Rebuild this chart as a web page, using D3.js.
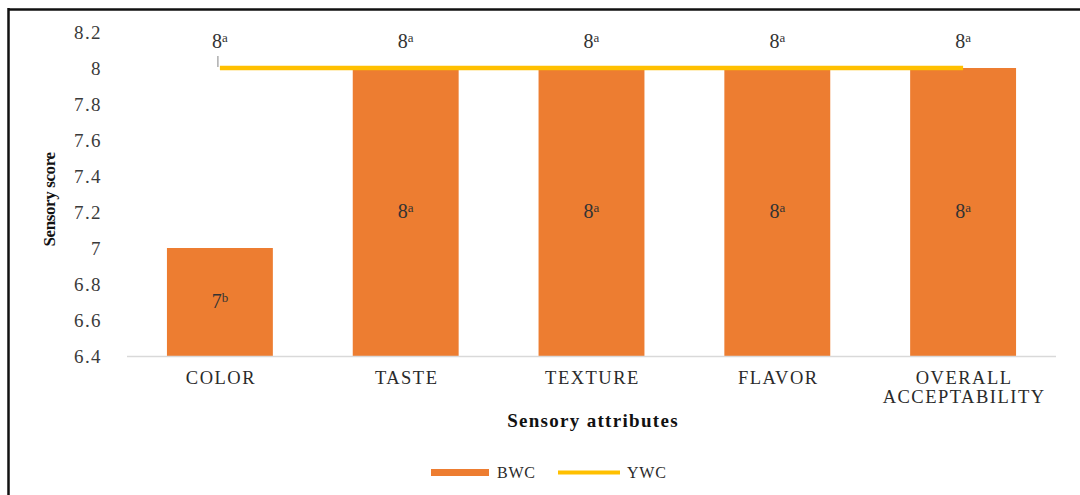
<!DOCTYPE html>
<html>
<head>
<meta charset="utf-8">
<script src="https://cdn.jsdelivr.net/npm/d3@7"></script>
<style>
  html, body { margin: 0; padding: 0; background: #fff; }
  svg { display: block; }
</style>
</head>
<body>
<svg id="chart" width="1080" height="495" font-family="Liberation Serif"></svg>
<script>
// Sensory scores per attribute
const categories = ["COLOR", "TASTE", "TEXTURE", "FLAVOR", "OVERALL ACCEPTABILITY"];
const bwcValues = [7, 8, 8, 8, 8];
const bwcLetters = ["b", "a", "a", "a", "a"];
const ywcValues = [8, 8, 8, 8, 8];
const ywcLetters = ["a", "a", "a", "a", "a"];
const yTicks = [6.4, 6.6, 6.8, 7, 7.2, 7.4, 7.6, 7.8, 8, 8.2];

const svg = d3.select("#chart");
const W = 1080, H = 495;
const SERIF = "Liberation Serif";

// Frame lines (top and left)
svg.append("line").attr("x1", 8).attr("x2", W).attr("y1", 9.5).attr("y2", 9.5)
  .attr("stroke", "#111").attr("stroke-width", 2.5);
svg.append("line").attr("x1", 8.5).attr("x2", 8.5).attr("y1", 8).attr("y2", H)
  .attr("stroke", "#111").attr("stroke-width", 2.5);

const plot = { left: 127, right: 1056, top: 32, bottom: 356 };

const x = d3.scaleBand().domain(categories)
  .range([plot.left, plot.right]).paddingInner(0.43).paddingOuter(0.215);
const y = d3.scaleLinear().domain([6.4, 8.2]).range([plot.bottom, plot.top]);

const orange = "#ED7D31", yellow = "#FFC000";

// Y axis tick labels
const yAxis = d3.axisLeft(y).tickValues(yTicks).tickSize(0).tickPadding(0)
  .tickFormat(d => d3.format("~g")(d));
const gy = svg.append("g").attr("transform", `translate(102,0)`).call(yAxis);
gy.attr("font-family", null).attr("font-size", null);
gy.select(".domain").remove();
gy.selectAll("text").attr("font-size", 19).attr("fill", "#3a3a3a")
  .attr("font-family", SERIF).attr("letter-spacing", 1.4).attr("dy", "0.34em");

// Bars (BWC)
svg.append("g").selectAll("rect").data(categories).join("rect")
  .attr("x", d => x(d))
  .attr("width", x.bandwidth())
  .attr("y", (d, i) => y(bwcValues[i]))
  .attr("height", (d, i) => y(6.4) - y(bwcValues[i]))
  .attr("fill", orange);

// Category axis line
svg.append("line").attr("x1", plot.left).attr("x2", plot.right)
  .attr("y1", y(6.4) + 0.5).attr("y2", y(6.4) + 0.5)
  .attr("stroke", "#D9D9D9").attr("stroke-width", 1.5);

// Category labels
const cx = d => x(d) + x.bandwidth() / 2;
const catG = svg.append("g");
categories.forEach(c => {
  const words = c === "OVERALL ACCEPTABILITY" ? ["OVERALL", "ACCEPTABILITY"] : [c];
  const t = catG.append("text").attr("x", cx(c)).attr("y", 384)
    .attr("text-anchor", "middle").attr("font-size", 18.5).attr("fill", "#2a2a2a")
    .attr("font-family", SERIF).attr("letter-spacing", 1.5);
  words.forEach((w, i) => {
    t.append("tspan").attr("x", cx(c) + 1).attr("dy", i === 0 ? 0 : 19).text(w);
  });
});

// YWC line
const line = d3.line().x((d, i) => cx(categories[i])).y(d => y(d));
svg.append("path").datum(ywcValues)
  .attr("d", line).attr("fill", "none")
  .attr("stroke", yellow).attr("stroke-width", 4.5).attr("stroke-linecap", "butt");
// small marker tick at the start of the line
svg.append("line")
  .attr("x1", cx(categories[0]) - 2).attr("x2", cx(categories[0]) - 2)
  .attr("y1", y(ywcValues[0]) - 12).attr("y2", y(ywcValues[0]) - 1)
  .attr("stroke", "#999").attr("stroke-width", 1.2);

// Value labels with significance letters
function valueLabel(g, xPos, yPos, val, letter) {
  const t = g.append("text").attr("x", xPos).attr("y", yPos)
    .attr("text-anchor", "middle").attr("fill", "#333").attr("font-family", SERIF);
  t.append("tspan").text(val).attr("font-size", 20);
  t.append("tspan").text(letter).attr("font-size", 13).attr("dy", -6);
}
const lblG = svg.append("g");
categories.forEach((c, i) => {
  valueLabel(lblG, cx(c), y(ywcValues[i]) - 20, ywcValues[i], ywcLetters[i]);
  const mid = (y(bwcValues[i]) + y(6.4)) / 2;
  valueLabel(lblG, cx(c), mid + 6, bwcValues[i], bwcLetters[i]);
});

// Axis titles
svg.append("text").attr("transform", `translate(55,${y(7.27)}) rotate(-90)`)
  .attr("text-anchor", "middle").attr("font-size", 17).attr("font-weight", "bold")
  .attr("font-family", SERIF).attr("fill", "#111").attr("letter-spacing", -0.4)
  .text("Sensory score");
svg.append("text").attr("x", 593).attr("y", 427)
  .attr("text-anchor", "middle").attr("font-size", 19).attr("font-weight", "bold")
  .attr("font-family", SERIF).attr("fill", "#111").attr("letter-spacing", 1.3)
  .text("Sensory attributes");

// Legend
const lg = svg.append("g").attr("font-family", SERIF);
lg.append("rect").attr("x", 431).attr("y", 469).attr("width", 58).attr("height", 7).attr("fill", orange);
lg.append("text").attr("x", 497).attr("y", 478).attr("font-size", 16).attr("letter-spacing", 0.8)
  .attr("fill", "#2a2a2a").text("BWC");
lg.append("line").attr("x1", 558).attr("x2", 620).attr("y1", 472.5).attr("y2", 472.5)
  .attr("stroke", yellow).attr("stroke-width", 4);
lg.append("text").attr("x", 627).attr("y", 478).attr("font-size", 16).attr("letter-spacing", 0.8)
  .attr("fill", "#2a2a2a").text("YWC");
</script>
</body>
</html>
